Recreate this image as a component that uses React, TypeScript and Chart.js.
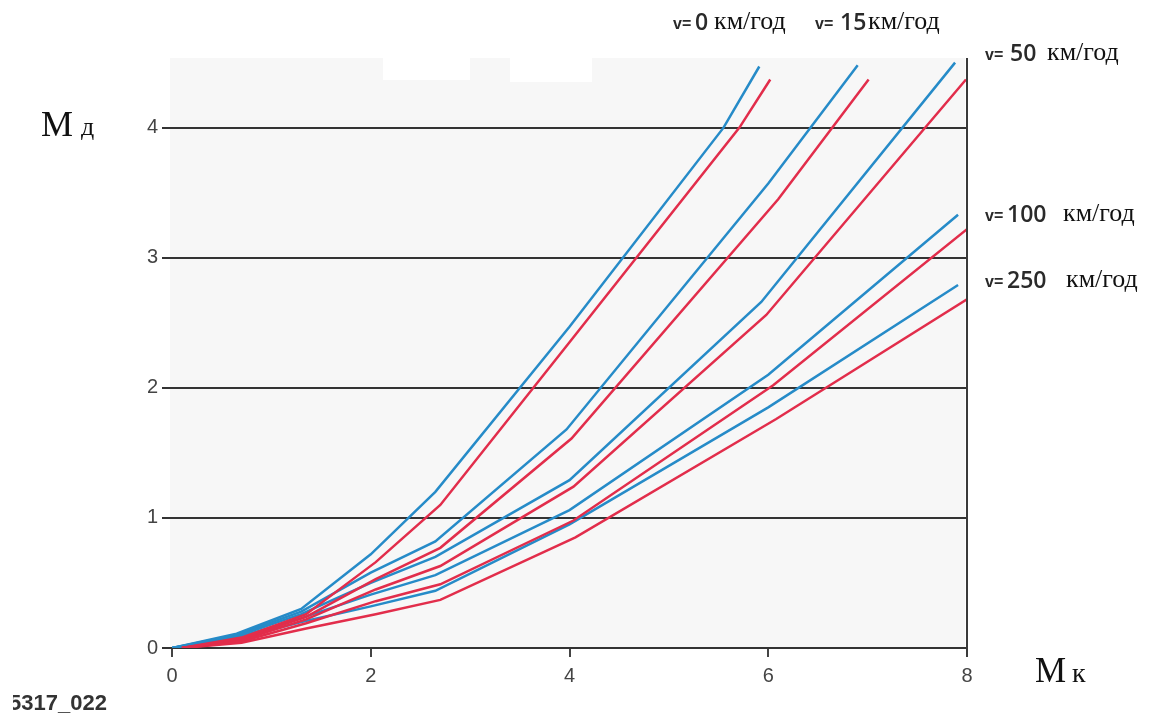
import React, { useEffect, useRef } from "react";
import { Chart, registerables } from "chart.js";

Chart.register(...registerables);

// x-axis ticks (M'к) and y-axis ticks (Mд)
const xTicks = [0, 2, 4, 6, 8];
const yTicks = [0, 1, 2, 3, 4];

// [x, y] vertices; blue = upper line, red = lower line of each pair
const v0Blue = [[0, 0], [0.65, 0.11], [1.3, 0.3], [2, 0.72], [2.65, 1.2], [4, 2.47], [5.55, 4.0], [5.91, 4.47]];
const v0Red = [[0.1, 0], [0.7, 0.08], [1.35, 0.26], [2.05, 0.66], [2.7, 1.1], [4, 2.35], [5.71, 4.0], [6.02, 4.37]];
const v15Blue = [[0, 0], [0.65, 0.1], [1.3, 0.28], [2, 0.58], [2.65, 0.82], [3.97, 1.68], [6, 3.57], [6.9, 4.48]];
const v15Red = [[0.1, 0], [0.7, 0.07], [1.35, 0.24], [2.05, 0.53], [2.7, 0.77], [4.02, 1.61], [6.1, 3.45], [7.01, 4.37]];
const v50Blue = [[0, 0], [0.65, 0.09], [1.3, 0.26], [2, 0.5], [2.65, 0.7], [4, 1.29], [5.93, 2.66], [7.88, 4.5]];
const v50Red = [[0.1, 0], [0.7, 0.06], [1.35, 0.22], [2.05, 0.45], [2.7, 0.63], [4.04, 1.24], [5.98, 2.56], [7.99, 4.37]];
const v100Blue = [[0, 0], [0.65, 0.08], [1.3, 0.23], [2, 0.41], [2.65, 0.56], [4, 1.06], [6, 2.1], [7.91, 3.33]];
const v100Red = [[0.1, 0], [0.7, 0.05], [1.35, 0.19], [2.05, 0.36], [2.7, 0.49], [4.04, 0.98], [6.05, 2.02], [8, 3.22]];
const v250Blue = [[0, 0], [0.65, 0.07], [1.3, 0.2], [2, 0.32], [2.65, 0.44], [4, 0.95], [6, 1.85], [7.91, 2.79]];
const v250Red = [[0.1, 0], [0.7, 0.04], [1.35, 0.15], [2.05, 0.26], [2.7, 0.37], [4.06, 0.85], [6.08, 1.76], [8, 2.68]];

const speedLabels = ["0", "15", "50", "100", "250"];
const blueSeries = [v0Blue, v15Blue, v50Blue, v100Blue, v250Blue];
const redSeries = [v0Red, v15Red, v50Red, v100Red, v250Red];

const BLUE = "rgb(38,139,200)";
const RED = "rgb(226,45,75)";

const bgPlugin = {
  id: "bgPlugin",
  beforeDraw(chart: any) {
    const { ctx, chartArea } = chart;
    ctx.save();
    ctx.fillStyle = "#f7f7f7";
    ctx.fillRect(chartArea.left - 2, chartArea.top - 2, chartArea.right - chartArea.left, chartArea.bottom - chartArea.top + 2);
    ctx.restore();
  },
  afterDraw(chart: any) {
    const { ctx, chartArea, scales } = chart;
    const x = scales.x.getPixelForValue(8);
    ctx.save();
    ctx.strokeStyle = "#3a3a3a";
    ctx.lineWidth = 2;
    ctx.beginPath();
    ctx.moveTo(x, chartArea.top - 2);
    ctx.lineTo(x, chartArea.bottom + 9);
    ctx.stroke();
    ctx.restore();
  },
};

const sans = "'Liberation Sans', Arial, sans-serif";
const serif = "'Liberation Serif', 'Times New Roman', serif";
const open = "'Open Sans', 'Liberation Sans', sans-serif";

const BASE: Record<string, number> = { sans: 0.8465, serif: 0.8375, open: 0.888 };
const FAM: Record<string, string> = { sans, serif, open };

function Txt({ x, base, size, fam, weight, color, children }: any) {
  return (
    <span
      style={{
        position: "absolute",
        left: x,
        top: base - BASE[fam] * size,
        fontFamily: FAM[fam],
        fontSize: size,
        lineHeight: size + "px",
        fontWeight: weight || 400,
        color: color || "#111",
        whiteSpace: "nowrap",
      }}
    >
      {children}
    </span>
  );
}

function SpeedLabel({ vx, nx, kx, base, num }: any) {
  return (
    <>
      <Txt x={vx} base={base} size={16} fam="sans" weight={700} color="#2a2a2a">v=</Txt>
      <Txt x={nx} base={base} size={23} fam="open" weight={600} color="#2a2a2a">{num}</Txt>
      <Txt x={kx} base={base} size={26} fam="serif">км/год</Txt>
    </>
  );
}

export default function App() {
  const ref = useRef<HTMLCanvasElement | null>(null);
  useEffect(() => {
    if (!ref.current) return;
    const datasets: any[] = [];
    redSeries.forEach((s, i) =>
      datasets.push({
        label: "red v=" + speedLabels[i],
        data: s.map(([x, y]) => ({ x, y })),
        borderColor: RED,
        borderWidth: 2.5,
        showLine: true,
        pointRadius: 0,
        tension: 0,
      })
    );
    blueSeries.forEach((s, i) =>
      datasets.push({
        label: "blue v=" + speedLabels[i],
        data: s.map(([x, y]) => ({ x, y })),
        borderColor: BLUE,
        borderWidth: 2.5,
        showLine: true,
        pointRadius: 0,
        tension: 0,
      })
    );
    const chart = new Chart(ref.current, {
      type: "scatter",
      data: { datasets },
      plugins: [bgPlugin],
      options: {
        responsive: false,
        animation: false,
        devicePixelRatio: 1,
        layout: { padding: { left: 132, right: 182, top: 60, bottom: 17 } },
        plugins: { legend: { display: false }, tooltip: { enabled: false } },
        scales: {
          x: {
            type: "linear",
            min: 0,
            max: 8,
            afterFit: (s: any) => { s.height = 50; },
            afterBuildTicks: (s: any) => { s.ticks = xTicks.map((v) => ({ value: v })); },
            ticks: { stepSize: 2, color: "#444", padding: 7, font: { family: sans, size: 20 } },
            grid: { drawOnChartArea: false, drawTicks: true, tickLength: 9, color: "#444", lineWidth: 2 },
            border: { display: false },
          },
          y: {
            type: "linear",
            min: 0,
            max: 4.52,
            afterFit: (s: any) => { s.width = 40; },
            afterBuildTicks: (s: any) => { s.ticks = yTicks.map((v) => ({ value: v })); },
            ticks: { stepSize: 1, includeBounds: false, color: "#444", padding: 4, font: { family: sans, size: 20 } },
            grid: { color: "#333", lineWidth: 2, tickLength: 10 },
            border: { display: false },
          },
        },
      } as any,
    });
    return () => chart.destroy();
  }, []);

  return (
    <div style={{ position: "fixed", left: 0, top: 0, width: 1149, height: 715, background: "#fff", overflow: "hidden" }}>
      <canvas ref={ref} width={1149} height={715} style={{ display: "block", width: 1149, height: 715 }} />
      <div style={{ position: "absolute", left: 383, top: 57, width: 87, height: 23, background: "#fff" }} />
      <div style={{ position: "absolute", left: 510, top: 57, width: 82, height: 25, background: "#fff" }} />
      <Txt x={41} base={136} size={36} fam="serif">M</Txt>
      <Txt x={81} base={136} size={26} fam="serif">д</Txt>
      <Txt x={1035} base={682} size={35} fam="serif">M</Txt>
      <Txt x={1072} base={682} size={28} fam="serif">к</Txt>
      <SpeedLabel vx={673} nx={695} kx={714} base={30} num="0" />
      <SpeedLabel vx={815} nx={840} kx={868} base={30} num="15" />
      <SpeedLabel vx={985} nx={1010} kx={1047} base={61} num="50" />
      <SpeedLabel vx={985} nx={1007} kx={1063} base={222} num="100" />
      <SpeedLabel vx={985} nx={1007} kx={1066} base={288} num="250" />
      <div style={{ position: "absolute", left: 13, top: 680, width: 120, height: 35, overflow: "hidden" }}>
        <Txt x={-4} base={31} size={22} fam="sans" weight={700} color="#333">5317_022</Txt>
      </div>
    </div>
  );
}
